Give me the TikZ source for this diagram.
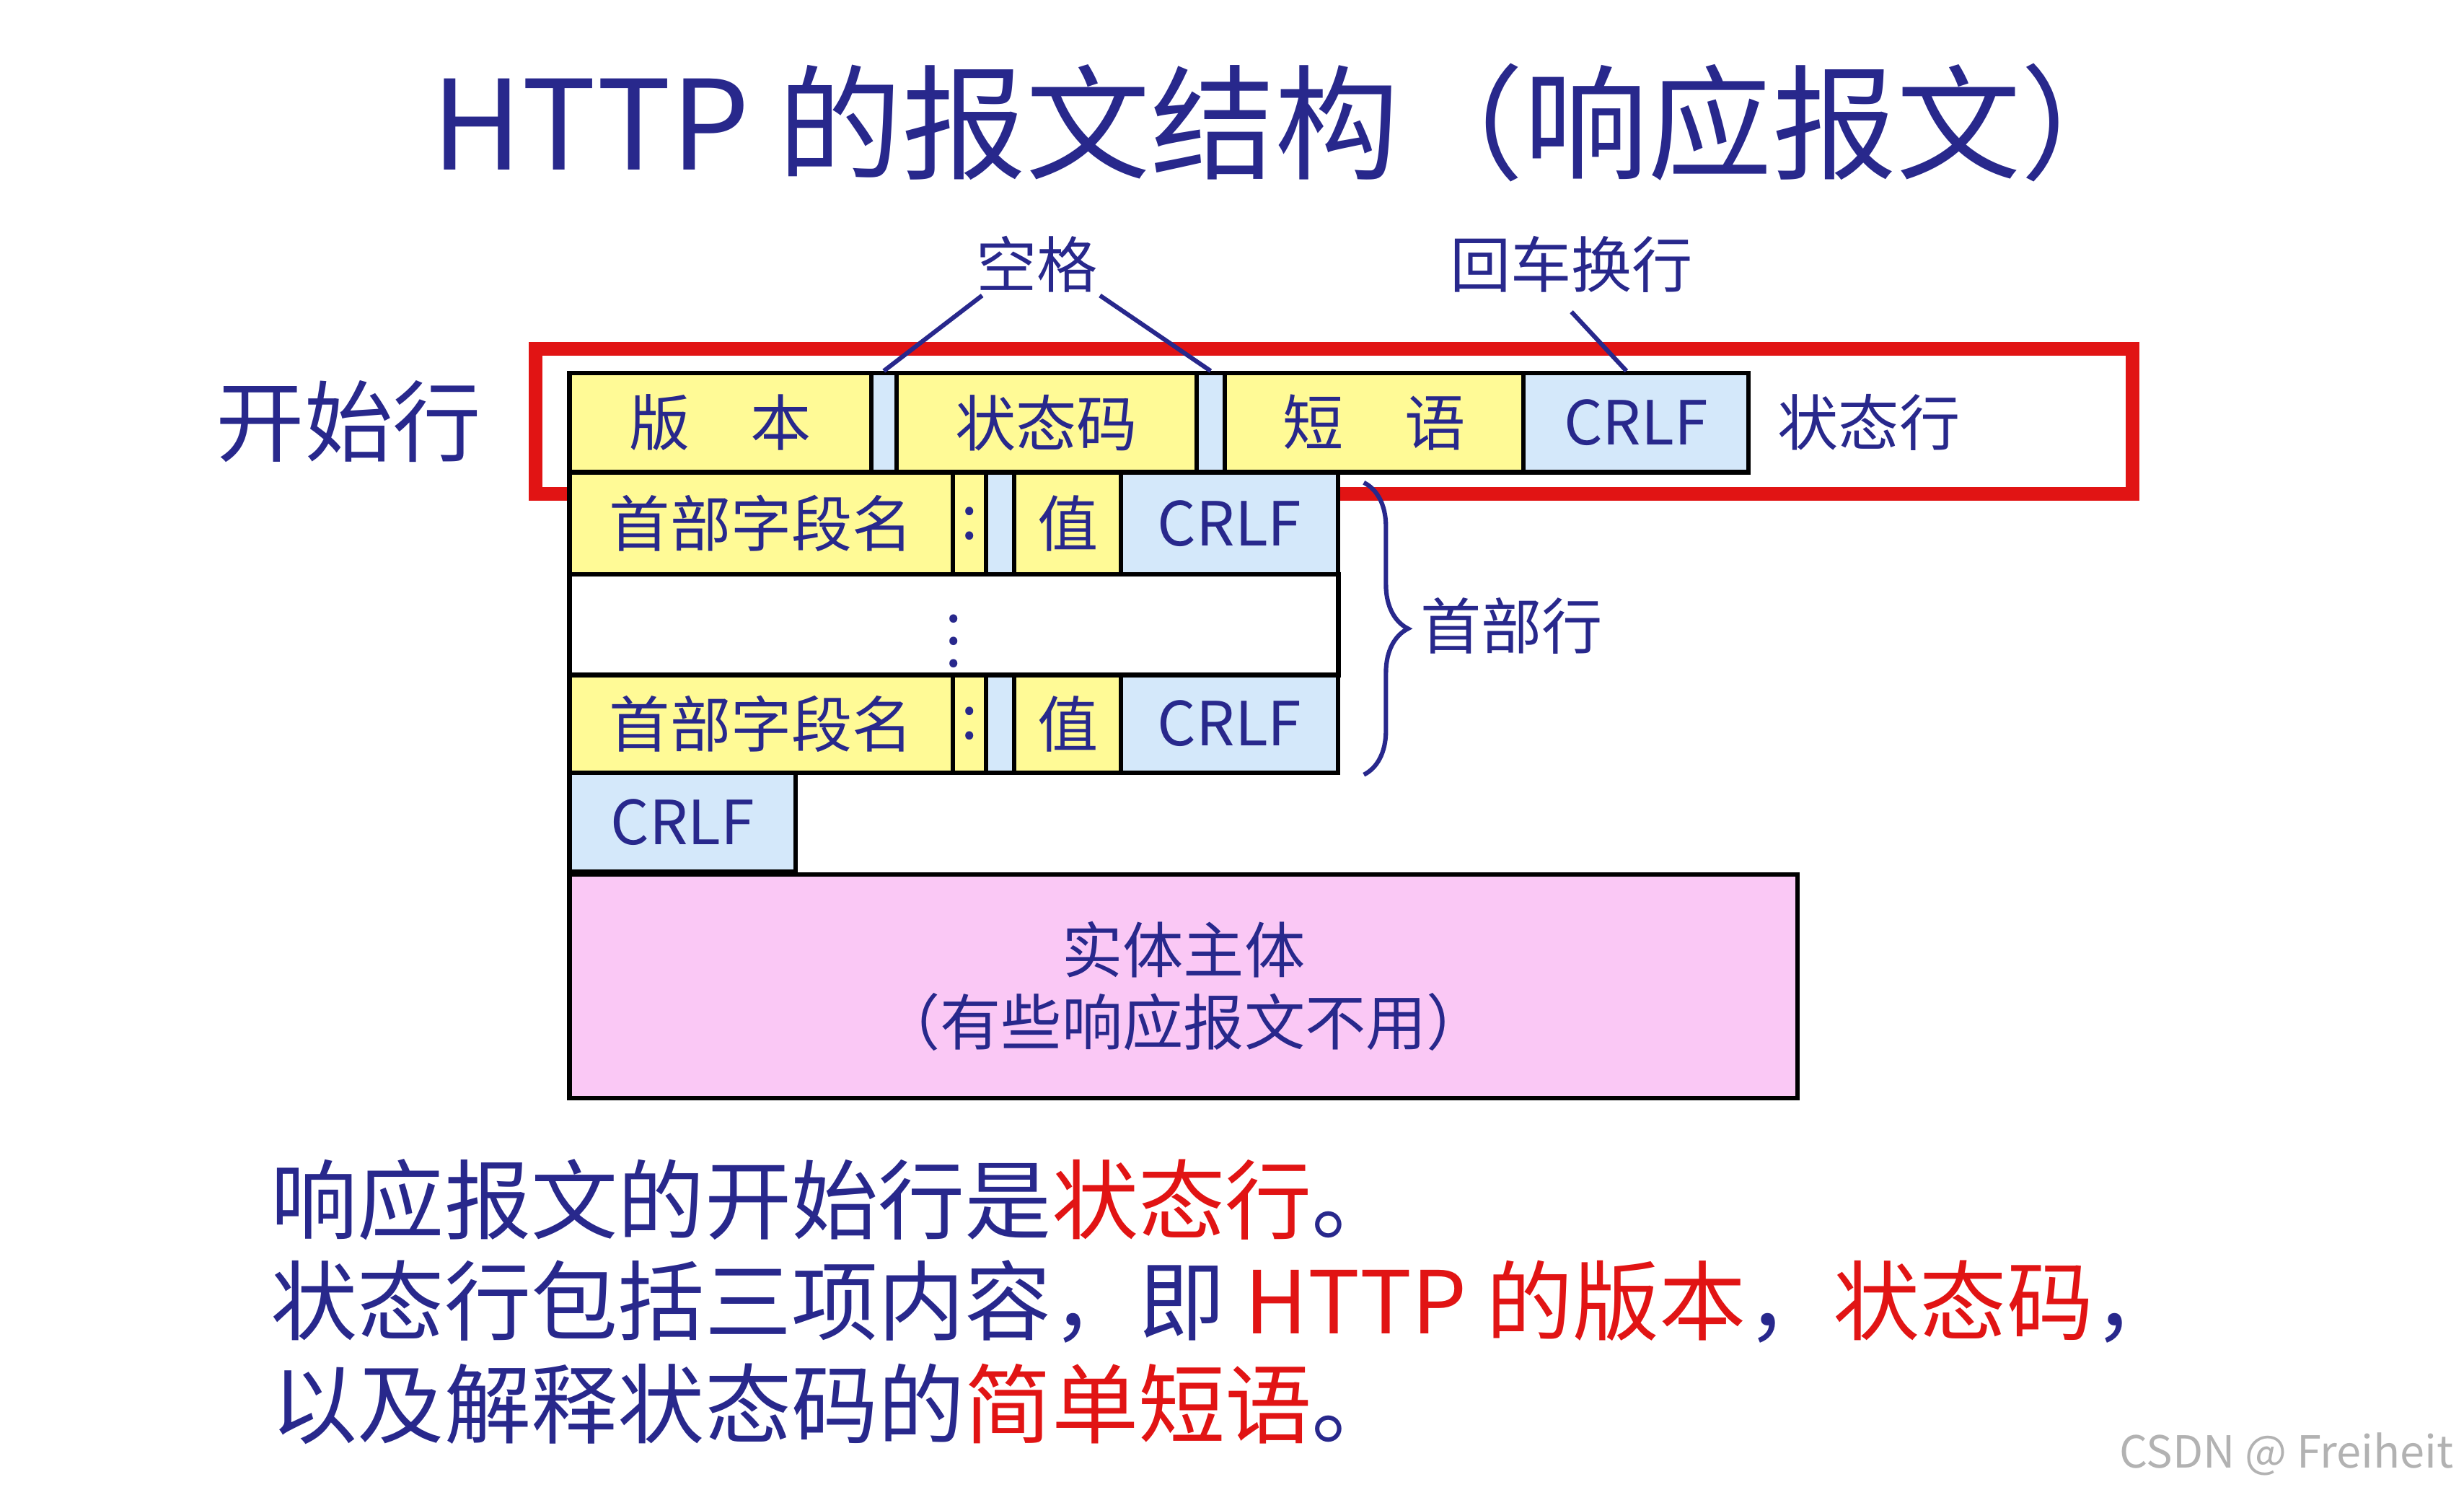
\documentclass[tikz,border=0pt]{standalone}
\usepackage{fontspec}
\setmainfont{Noto Sans CJK SC}
\usetikzlibrary{positioning,calc,decorations.pathreplacing}
\definecolor{titleblue}{RGB}{40,40,140}
\definecolor{cellyellow}{RGB}{255,250,150}
\definecolor{cellblue}{RGB}{212,232,250}
\definecolor{cellpink}{RGB}{250,200,245}
\definecolor{markred}{RGB}{225,20,20}
\tikzset{
  cell/.style={draw, thick, anchor=north west, inner sep=0pt, font=\fontsize{11}{13}\selectfont, text=titleblue},
  yel/.style={cell, fill=cellyellow},
  blu/.style={cell, fill=cellblue},
  lbl/.style={text=titleblue, font=\fontsize{11}{13}\selectfont},
  btxt/.style={anchor=west, text=titleblue, font=\fontsize{15.7}{19}\selectfont}
}
\begin{document}
\begin{tikzpicture}[x=0.01cm, y=-0.01cm]
\useasboundingbox (0,0) rectangle (1568,951);
% Title
\node[text=titleblue, font=\fontsize{22.5}{27}\selectfont] (title) at (820,78) {HTTP 的报文结构（响应报文）};
% Status line
\node[yel, minimum width=1.92cm, minimum height=0.63cm] (ver) at (361,236) {版\quad 本};
\node[blu, minimum width=0.16cm, minimum height=0.63cm] (sp1) at (553,236) {};
\node[yel, minimum width=1.91cm, minimum height=0.63cm] (code) at (569,236) {状态码};
\node[blu, minimum width=0.18cm, minimum height=0.63cm] (sp2) at (760,236) {};
\node[yel, minimum width=1.90cm, minimum height=0.63cm] (phr) at (778,236) {短\quad 语};
\node[blu, minimum width=1.43cm, minimum height=0.63cm] (crlf0) at (968,236) {CRLF};
\node[lbl, right=0.05cm of crlf0] (stat) {状态行};
\node[lbl, font=\fontsize{16}{19}\selectfont] (start) at (222,268) {开始行};
\draw[markred, line width=2.5pt] (341,222) rectangle (1357,314);
% Labels above
\node[lbl] (kg) at (660,168) {空格};
\node[lbl] (cr) at (1000,168) {回车换行};
\draw[titleblue, thick] (625,188) -- (sp1.north);
\draw[titleblue, thick] (700,188) -- (sp2.north);
\draw[titleblue, thick] (cr.south) -- (crlf0.north -| 1035,0);
% Header lines
\node[yel, minimum width=2.44cm, minimum height=0.65cm] (name1) at (361,299) {首部字段名};
\node[yel, minimum width=0.21cm, minimum height=0.65cm] (col1) at (605,299) {:};
\node[blu, minimum width=0.18cm, minimum height=0.65cm] (gap1) at (626,299) {};
\node[yel, minimum width=0.68cm, minimum height=0.65cm] (val1) at (644,299) {值};
\node[blu, minimum width=1.38cm, minimum height=0.65cm] (crlf1) at (712,299) {CRLF};
\node[cell, fill=white, minimum width=4.89cm, minimum height=0.64cm] (dots) at (361,364) {$\vdots$};
\node[yel, minimum width=2.44cm, minimum height=0.62cm] (name2) at (361,428) {首部字段名};
\node[yel, minimum width=0.21cm, minimum height=0.62cm] (col2) at (605,428) {:};
\node[blu, minimum width=0.18cm, minimum height=0.62cm] (gap2) at (626,428) {};
\node[yel, minimum width=0.68cm, minimum height=0.62cm] (val2) at (644,428) {值};
\node[blu, minimum width=1.38cm, minimum height=0.62cm] (crlf2) at (712,428) {CRLF};
\node[blu, minimum width=1.44cm, minimum height=0.63cm] (crlf3) at (361,490) {CRLF};
\draw[titleblue, thick, decorate, decoration={brace, amplitude=8pt}]
  ($(crlf1.north east)+(15,8)$) -- ($(crlf2.south east)+(15,0)$);
\node[lbl] (hdr) at (962,398) {首部行};
% Entity body
\node[cell, fill=cellpink, minimum width=7.81cm, minimum height=1.42cm, align=center] (body) at (361,555) {实体主体\\（有些响应报文不用）};
% Bottom text
\node[btxt] (t1) at (160,763) {响应报文的开始行是\textcolor{markred}{状态行}。};
\node[btxt] (t2) at (160,828) {状态行包括三项内容，即 \textcolor{markred}{HTTP 的版本}，\textcolor{markred}{状态码}，};
\node[btxt] (t3) at (160,893) {以及解释状态码的\textcolor{markred}{简单短语}。};
\node[text=gray!60, font=\fontsize{8}{10}\selectfont] (wm) at (1455,925) {CSDN @ Freiheit};
\end{tikzpicture}
\end{document}
